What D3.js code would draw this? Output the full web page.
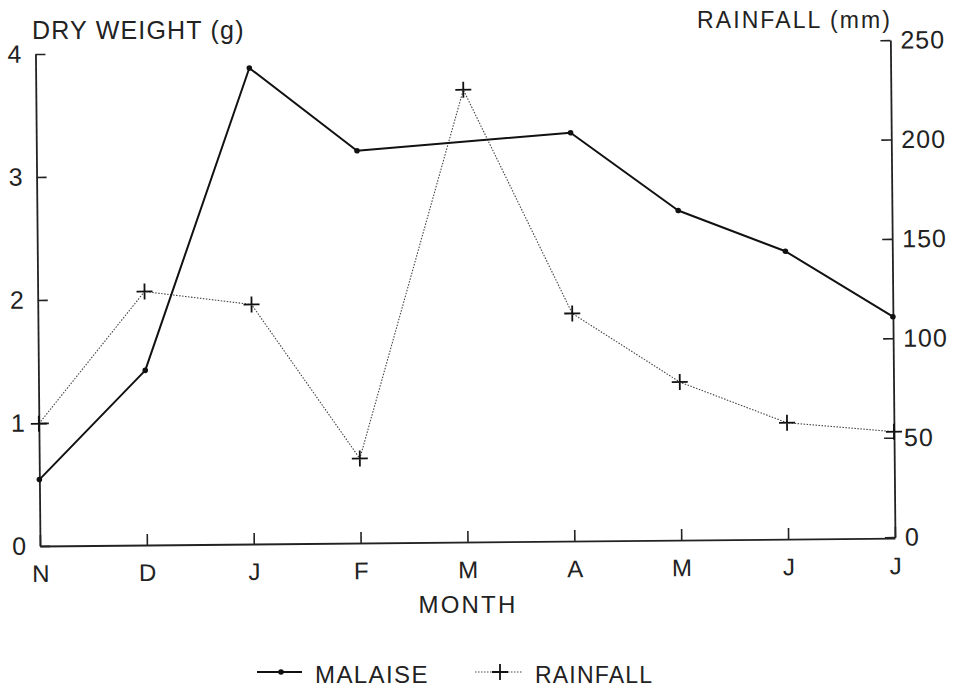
<!DOCTYPE html>
<html>
<head>
<meta charset="utf-8">
<script src="https://cdn.jsdelivr.net/npm/d3@7"></script>
<style>
  html, body { margin: 0; padding: 0; background: #fff; }
  svg { display: block; }
  text { font-family: "Liberation Sans", Arial, sans-serif; fill: #222; }
</style>
</head>
<body>
<svg id="chart" width="955" height="689"></svg>
<script>
// ---- data ----
const months = ["N", "D", "J", "F", "M", "A", "M", "J", "J"];
const malaise = [0.54, 1.42, 3.87, 3.19, null, 3.32, 2.68, 2.34, 1.80];   // dry weight (g)
const rainfall = [61, 127, 120, 42, 227, 114, 79, 58, 53];               // rainfall (mm)
const leftTicks = [0, 1, 2, 3, 4];
const rightTicks = [0, 50, 100, 150, 200, 250];
const leftTitle = "DRY WEIGHT (g)";
const rightTitle = "RAINFALL (mm)";
const xTitle = "MONTH";
const legendLabels = ["MALAISE", "RAINFALL"];

// ---- layout ----
const svg = d3.select("#chart");
const left = 40, right = 895, bottom = 546;

const x = d3.scaleLinear().domain([0, months.length - 1]).range([left, right]);
const yL = d3.scaleLinear().domain([0, 4]).range([bottom, 54]);
const yR = d3.scaleLinear().domain([0, 250]).range([545, 48]);

// the scanned figure is slightly rotated
const g = svg.append("g").attr("transform", `rotate(-0.53, ${left}, ${bottom})`);

const axisStyle = sel => {
  sel.selectAll(".domain").attr("stroke", "#222").attr("stroke-width", 1.8);
  sel.selectAll(".tick line").attr("stroke", "#222").attr("stroke-width", 1.6);
  sel.selectAll("text").attr("fill", "#222").style("font-family", '"Liberation Sans", Arial, sans-serif');
};

// x axis
g.append("g")
  .attr("transform", `translate(0,${bottom})`)
  .call(d3.axisBottom(x).tickValues(d3.range(months.length)).tickFormat(i => months[i])
        .tickSize(-11).tickSizeOuter(0).tickPadding(19))
  .call(axisStyle)
  .call(s => s.selectAll("text").attr("font-size", 24));

// left axis
g.append("g")
  .attr("transform", `translate(${left},0)`)
  .call(d3.axisLeft(yL).tickValues(leftTicks).tickFormat(d3.format("d"))
        .tickSize(-10).tickSizeOuter(0).tickPadding(14))
  .call(axisStyle)
  .call(s => s.selectAll("text").attr("font-size", 25));

// right axis
g.append("g")
  .attr("transform", `translate(${right},0)`)
  .call(d3.axisRight(yR).tickValues(rightTicks).tickFormat(d3.format("d"))
        .tickSize(-10).tickSizeOuter(0).tickPadding(10))
  .call(axisStyle)
  .call(s => s.selectAll("text").attr("font-size", 25).attr("letter-spacing", 1));

// rainfall line (dotted) with + markers
const rainData = rainfall.map((v, i) => ({ i, v }));
g.append("path")
  .datum(rainData)
  .attr("fill", "none")
  .attr("stroke", "#444")
  .attr("stroke-width", 1.1)
  .attr("stroke-dasharray", "1.5,1.5")
  .attr("d", d3.line().x(d => x(d.i)).y(d => yR(d.v)));

const plus = 8;
g.append("g").selectAll("path.plus")
  .data(rainData)
  .join("path")
  .attr("class", "plus")
  .attr("stroke", "#111")
  .attr("stroke-width", 1.8)
  .attr("d", d => {
    const cx = x(d.i), cy = yR(d.v);
    return `M${cx - plus},${cy}H${cx + plus}M${cx},${cy - plus}V${cy + plus}`;
  });

// malaise line (solid) with dot markers
const malData = malaise.map((v, i) => ({ i, v })).filter(d => d.v !== null);
g.append("path")
  .datum(malData)
  .attr("fill", "none")
  .attr("stroke", "#111")
  .attr("stroke-width", 2)
  .attr("stroke-linejoin", "round")
  .attr("d", d3.line().x(d => x(d.i)).y(d => yL(d.v)));

g.append("g").selectAll("circle")
  .data(malData)
  .join("circle")
  .attr("cx", d => x(d.i))
  .attr("cy", d => yL(d.v))
  .attr("r", 2.8)
  .attr("fill", "#111");

// titles
svg.append("text").attr("x", 32).attr("y", 39)
  .attr("font-size", 25).attr("letter-spacing", 1.2).text(leftTitle);
svg.append("text").attr("x", 697).attr("y", 28)
  .attr("font-size", 23).attr("letter-spacing", 2.1).text(rightTitle);
svg.append("text").attr("x", 468).attr("y", 613).attr("text-anchor", "middle")
  .attr("font-size", 24).attr("letter-spacing", 2.2).text(xTitle);

// legend
const leg = svg.append("g");
leg.append("line").attr("x1", 257).attr("x2", 302).attr("y1", 672).attr("y2", 672)
  .attr("stroke", "#111").attr("stroke-width", 2);
leg.append("circle").attr("cx", 281).attr("cy", 672).attr("r", 2.8).attr("fill", "#111");
leg.append("text").attr("x", 315).attr("y", 683).attr("font-size", 24)
  .attr("letter-spacing", 1.4).text(legendLabels[0]);

leg.append("line").attr("x1", 475).attr("x2", 523).attr("y1", 672).attr("y2", 672)
  .attr("stroke", "#444").attr("stroke-width", 1.1).attr("stroke-dasharray", "1.5,1.5");
leg.append("path").attr("stroke", "#111").attr("stroke-width", 1.8)
  .attr("d", `M${500 - plus},672H${500 + plus}M500,${672 - plus}V${672 + plus}`);
leg.append("text").attr("x", 535).attr("y", 683).attr("font-size", 23)
  .attr("letter-spacing", 1.2).text(legendLabels[1]);
</script>
</body>
</html>
